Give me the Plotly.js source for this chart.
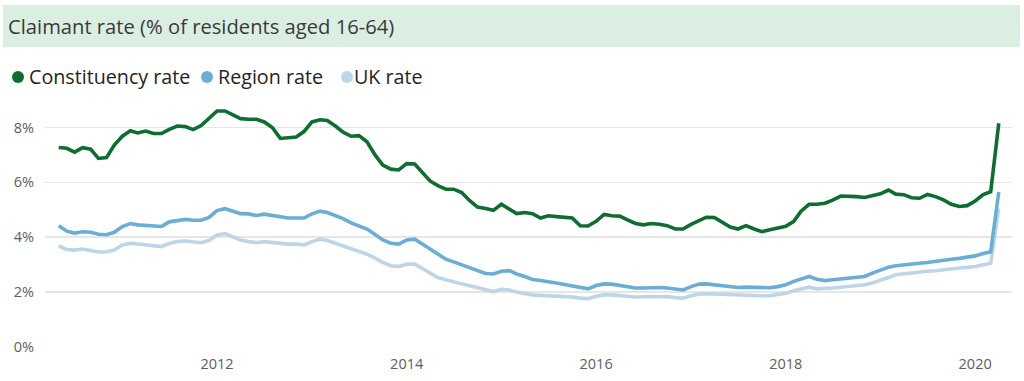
<!DOCTYPE html>
<html>
<head>
<meta charset="utf-8">
<script src="https://cdn.plot.ly/plotly-3.0.1.min.js"></script>
<style>
  html, body { margin: 0; padding: 0; background: #ffffff; }
  #chart { width: 1024px; height: 381px; }
</style>
</head>
<body>
<div id="chart"></div>
<script>
// ---------- data ----------
const chartTitle = "Claimant rate (% of residents aged 16-64)";
const seriesNames = ["Constituency rate", "Region rate", "UK rate"];
const firstMonth = "2010-05";   // monthly observations, May 2010 .. Apr 2020
const monthCount = 120;

const constituencyRate = [7.27,7.24,7.10,7.26,7.21,6.87,6.90,7.36,7.68,7.88,
  7.80,7.87,7.78,7.78,7.93,8.05,8.03,7.92,8.07,8.33,
  8.60,8.60,8.45,8.32,8.30,8.30,8.20,8.00,7.60,7.63,
  7.65,7.85,8.20,8.28,8.25,8.05,7.83,7.68,7.70,7.48,
  7.00,6.63,6.48,6.45,6.68,6.67,6.38,6.05,5.88,5.75,
  5.75,5.63,5.33,5.10,5.05,4.98,5.20,5.03,4.86,4.90,
  4.86,4.70,4.78,4.75,4.72,4.70,4.42,4.41,4.58,4.83,
  4.78,4.77,4.63,4.50,4.45,4.50,4.47,4.42,4.30,4.30,
  4.47,4.60,4.73,4.72,4.53,4.37,4.30,4.42,4.30,4.20,
  4.27,4.33,4.40,4.58,4.95,5.20,5.20,5.24,5.35,5.50,
  5.50,5.48,5.45,5.50,5.58,5.72,5.57,5.55,5.44,5.42,
  5.56,5.48,5.36,5.20,5.12,5.15,5.32,5.55,5.66,8.15];

const regionRate = [4.42,4.22,4.15,4.20,4.18,4.11,4.09,4.18,4.39,4.50,
  4.45,4.42,4.41,4.39,4.56,4.60,4.65,4.62,4.62,4.72,
  4.97,5.04,4.96,4.86,4.85,4.79,4.84,4.80,4.74,4.70,
  4.70,4.70,4.85,4.95,4.90,4.80,4.68,4.52,4.42,4.30,
  4.10,3.90,3.78,3.75,3.90,3.93,3.76,3.58,3.39,3.20,
  3.10,3.00,2.90,2.78,2.68,2.66,2.76,2.78,2.66,2.57,
  2.46,2.42,2.36,2.33,2.28,2.22,2.15,2.12,2.24,2.30,
  2.29,2.24,2.19,2.15,2.15,2.17,2.17,2.15,2.11,2.08,
  2.20,2.29,2.30,2.27,2.21,2.18,2.17,2.18,2.17,2.17,
  2.16,2.20,2.27,2.39,2.47,2.57,2.47,2.42,2.45,2.48,
  2.51,2.53,2.57,2.69,2.81,2.91,2.96,3.00,3.02,3.05,
  3.08,3.13,3.15,3.20,3.23,3.26,3.32,3.41,3.47,5.65];

const ukRate = [3.68,3.55,3.53,3.57,3.52,3.46,3.47,3.53,3.72,3.78,
  3.75,3.72,3.69,3.66,3.77,3.84,3.86,3.82,3.80,3.88,
  4.08,4.13,4.02,3.90,3.84,3.80,3.84,3.80,3.77,3.75,
  3.75,3.72,3.84,3.93,3.88,3.78,3.66,3.55,3.48,3.38,
  3.24,3.08,2.96,2.93,3.02,3.02,2.87,2.69,2.53,2.45,
  2.39,2.30,2.23,2.15,2.07,2.02,2.10,2.08,2.00,1.94,
  1.90,1.88,1.87,1.87,1.84,1.82,1.78,1.76,1.85,1.90,
  1.90,1.87,1.84,1.82,1.83,1.84,1.86,1.84,1.80,1.78,
  1.87,1.93,1.94,1.93,1.90,1.88,1.87,1.88,1.87,1.87,
  1.87,1.90,1.96,2.05,2.12,2.18,2.12,2.12,2.15,2.18,
  2.21,2.23,2.27,2.33,2.42,2.53,2.63,2.67,2.69,2.73,
  2.76,2.78,2.82,2.84,2.88,2.90,2.93,3.00,3.05,5.05];

const yTickValues = [0, 2, 4, 6, 8];
const yTickLabels = ["0%", "2%", "4%", "6%", "8%"];
const xTickValues = ["2012-01-01", "2014-01-01", "2016-01-01", "2018-01-01", "2020-01-01"];
const xTickLabels = ["2012", "2014", "2016", "2018", "2020"];

// ---------- build month axis ----------
function monthList(start, n) {
  const [y0, m0] = start.split("-").map(Number);
  const out = [];
  for (let k = 0; k < n; k++) {
    const t = (m0 - 1) + k;
    const y = y0 + Math.floor(t / 12);
    const m = (t % 12) + 1;
    out.push(y + "-" + String(m).padStart(2, "0") + "-01");
  }
  return out;
}
const months = monthList(firstMonth, monthCount);

// ---------- style ----------
const FONT = "'Open Sans', 'Noto Sans', sans-serif";
const colors = { constituency: "#0d6e30", region: "#6aaed6", uk: "#bcd6e8" };
const W = 1024, H = 381;
const M = { l: 45, r: 12, t: 100, b: 34 };
const plotW = W - M.l - M.r, plotH = H - M.t - M.b;
const px2x = p => (p - M.l) / plotW;          // page px -> paper x
const py2y = p => (H - M.b - p) / plotH;      // page px -> paper y

const traces = [
  { name: seriesNames[2], x: months, y: ukRate, color: colors.uk },
  { name: seriesNames[1], x: months, y: regionRate, color: colors.region },
  { name: seriesNames[0], x: months, y: constituencyRate, color: colors.constituency }
].map(s => ({
  type: "scatter", mode: "lines", name: s.name, x: s.x, y: s.y,
  line: { color: s.color, width: 3.6, shape: "linear" },
  showlegend: false, hoverinfo: "skip"
}));

// legend (dots + labels) placed like the reference
const legendItems = [
  { label: seriesNames[0], color: colors.constituency, dot: 18, text: 27 },
  { label: seriesNames[1], color: colors.region, dot: 207, text: 216 },
  { label: seriesNames[2], color: colors.uk, dot: 347, text: 352 }
];
const legendY = 77;

const shapes = [
  { type: "rect", xref: "paper", yref: "paper", layer: "below",
    x0: px2x(3), x1: px2x(1020), y0: py2y(47), y1: py2y(5),
    fillcolor: "#daefe2", line: { width: 0 } }
];
const annotations = [];
legendItems.forEach(it => {
  shapes.push({ type: "circle", xref: "paper", yref: "paper",
    xsizemode: "pixel", ysizemode: "pixel",
    xanchor: px2x(it.dot), yanchor: py2y(legendY),
    x0: -6, x1: 6, y0: -6, y1: 6,
    fillcolor: it.color, line: { width: 0 } });
  annotations.push({ xref: "paper", yref: "paper", x: px2x(it.text), y: py2y(legendY),
    xanchor: "left", yanchor: "middle", showarrow: false, text: it.label,
    font: { family: FONT, size: 19.7, color: "#252423" } });
});

const layout = {
  width: W, height: H,
  margin: M,
  paper_bgcolor: "#ffffff", plot_bgcolor: "#ffffff",
  font: { family: FONT, color: "#605e5c" },
  title: { text: chartTitle, xref: "container", yref: "container",
    x: 8 / W, xanchor: "left", y: 1 - 27 / H, yanchor: "middle",
    font: { family: FONT, size: 20.2, color: "#3b3a39" } },
  showlegend: false,
  xaxis: {
    type: "date",
    range: ["2010-03-09", "2020-05-22"],
    tickvals: xTickValues, ticktext: xTickLabels,
    showgrid: false, zeroline: false, showline: false, ticks: "",
    tickfont: { family: FONT, size: 14.5, color: "#605e5c" },
    ticklabelstandoff: 6
  },
  yaxis: {
    range: [0, 9],
    tickvals: yTickValues, ticktext: yTickLabels,
    showgrid: true, gridcolor: "#e6e6e6", gridwidth: 1.5,
    zeroline: false, showline: false, ticks: "",
    tickfont: { family: FONT, size: 14.5, color: "#605e5c" },
    ticklabelstandoff: 10
  },
  shapes: shapes,
  annotations: annotations
};

Plotly.newPlot("chart", traces, layout, { staticPlot: true, displayModeBar: false });
</script>
</body>
</html>
